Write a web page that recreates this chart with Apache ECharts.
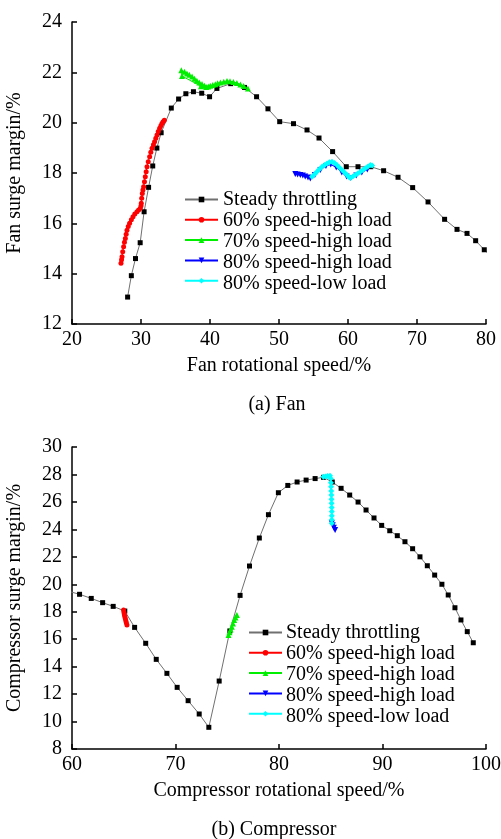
<!DOCTYPE html>
<html>
<head>
<meta charset="utf-8">
<script src="https://cdn.jsdelivr.net/npm/echarts@6/dist/echarts.min.js"></script>
<style>
html,body{margin:0;padding:0;background:#fff;}
#c{width:501px;height:839px;}
</style>
</head>
<body>
<div id="c"></div>
<script>
// ---------- data ----------
var seriesNames = ['Steady throttling', '60% speed-high load', '70% speed-high load', '80% speed-high load', '80% speed-low load'];

var fanSteady = [[28.06,13.07],[28.6,13.92],[29.2,14.6],[29.88,15.23],[30.45,16.46],[31.1,17.43],[31.7,18.28],[32.3,18.99],[32.92,19.6],[34.39,20.58],[35.45,20.94],[36.5,21.15],[37.6,21.23],[38.8,21.17],[39.94,21.03],[41.0,21.36],[43.0,21.55],[45.0,21.4],[46.75,21.03],[48.4,20.55],[50.1,20.04],[52.1,19.96],[54.06,19.71],[55.8,19.39],[57.77,18.85],[59.75,18.25],[61.45,18.25],[63.3,18.25],[65.16,18.09],[67.25,17.83],[69.37,17.42],[71.6,16.85],[74.0,16.16],[75.8,15.76],[77.25,15.6],[78.5,15.31],[79.75,14.95],[80.3,14.8]];
var fan60 = [[27.1,14.41],[27.18,14.55],[27.25,14.67],[27.35,14.87],[27.48,15.07],[27.6,15.25],[27.73,15.4],[27.85,15.57],[27.97,15.73],[28.15,15.87],[28.35,16.0],[28.6,16.14],[28.84,16.26],[29.1,16.37],[29.42,16.46],[29.65,16.53],[29.9,16.6],[30.0,16.7],[30.04,16.8],[30.1,17.0],[30.19,17.19],[30.28,17.32],[30.38,17.45],[30.5,17.65],[30.62,17.85],[30.75,18.05],[30.87,18.25],[31.05,18.45],[31.25,18.65],[31.42,18.82],[31.6,18.98],[31.8,19.12],[31.97,19.24],[32.15,19.38],[32.32,19.51],[32.5,19.65],[32.7,19.78],[32.88,19.88],[33.04,19.97],[33.2,20.04],[33.38,20.1]];
var fan70 = [[38.7,21.45],[35.94,21.85],[35.84,22.08],[36.3,22.02],[36.66,21.95],[37.0,21.9],[37.4,21.83],[37.75,21.75],[38.1,21.67],[38.45,21.6],[38.84,21.54],[39.2,21.47],[39.46,21.42],[39.75,21.44],[40.04,21.47],[40.4,21.5],[40.77,21.53],[41.1,21.57],[41.5,21.6],[42.0,21.63],[42.46,21.66],[42.9,21.65],[43.4,21.62],[43.9,21.58],[44.4,21.52],[44.87,21.46],[45.5,21.36]];
var fan80High = [[52.36,17.96],[52.7,17.94],[53.09,17.92],[53.45,17.9],[53.8,17.86],[54.2,17.82],[54.54,17.78],[55.2,17.92],[56.0,18.12],[56.8,18.28],[57.5,18.34],[58.3,18.22],[59.1,18.02],[59.8,17.86],[60.4,17.8],[61.2,17.9],[62.0,18.02],[62.8,18.14]];
var fan80Low = [[54.78,17.85],[55.15,17.95],[55.5,18.05],[55.85,18.15],[56.23,18.25],[56.6,18.32],[56.96,18.38],[57.3,18.43],[57.68,18.45],[58.05,18.4],[58.4,18.32],[58.75,18.22],[59.13,18.12],[59.5,18.02],[59.86,17.92],[60.1,17.85],[60.33,17.8],[60.7,17.86],[61.06,17.92],[61.4,17.98],[61.78,18.05],[62.15,18.12],[62.5,18.19],[62.85,18.25],[63.23,18.32],[63.5,18.3]];

var compSteady = [[59.6,19.5],[60.73,19.27],[61.86,18.97],[62.96,18.66],[63.98,18.39],[65.1,18.05],[66.05,16.86],[67.12,15.7],[68.14,14.53],[69.17,13.51],[70.16,12.49],[71.22,11.52],[72.29,10.55],[73.22,9.58],[74.22,12.95],[75.25,16.6],[76.24,19.19],[77.15,21.33],[78.1,23.37],[78.98,25.07],[79.94,26.67],[80.85,27.2],[81.75,27.45],[82.62,27.59],[83.49,27.7],[84.3,27.79],[85.15,27.45],[86.0,26.99],[86.83,26.5],[87.64,25.99],[88.41,25.41],[89.18,24.83],[89.92,24.29],[90.7,23.9],[91.43,23.54],[92.17,23.1],[92.91,22.59],[93.62,22.0],[94.33,21.35],[95.04,20.67],[95.74,20.0],[96.35,19.22],[97.0,18.29],[97.58,17.4],[98.19,16.55],[98.77,15.74]];
var comp60 = [[64.98,18.12],[65.02,17.95],[65.06,17.8],[65.1,17.65],[65.15,17.5],[65.2,17.35],[65.25,17.2],[65.31,17.03]];
var comp70 = [[75.12,16.3],[75.22,16.5],[75.32,16.7],[75.44,16.9],[75.55,17.15],[75.67,17.4],[75.8,17.58],[75.93,17.76]];
var comp80High = [[85.1,24.44],[85.2,24.3],[85.3,24.12],[85.42,23.95]];
var comp80Low = [[84.29,27.83],[84.5,27.86],[84.7,27.88],[84.93,27.9],[85.0,27.7],[85.02,27.4],[85.03,27.1],[85.05,26.8],[85.06,26.5],[85.07,26.2],[85.08,25.9],[85.09,25.6],[85.1,25.3],[85.1,25.0],[85.1,24.7],[85.1,24.44]];

var fanXTicks = [20, 80, 10];
var fanYTicks = [12, 24, 2];
var compXTicks = [60, 100, 10];
var compYTicks = [8, 30, 2];

var captions = ['(a) Fan', '(b) Compressor'];
var axisNames = ['Fan rotational speed/%', 'Fan surge margin/%', 'Compressor rotational speed/%', 'Compressor surge margin/%'];

// ---------- styling ----------
var FONT = 'Liberation Serif';
var FONT_CSS = '20px "Liberation Serif", "DejaVu Serif", serif';
var styles = [
  {color: '#000000', line: '#707070', symbol: 'rect', size: 5, rotate: 0},
  {color: '#ff0000', line: '#ff0000', symbol: 'circle', size: 5, rotate: 0},
  {color: '#00ee00', line: '#00ee00', symbol: 'triangle', size: 6, rotate: 0},
  {color: '#0000ff', line: '#0000ff', symbol: 'triangle', size: 6, rotate: 180},
  {color: '#00ffff', line: '#00ffff', symbol: 'diamond', size: 6, rotate: 0}
];

function mkSeries(data, i, gridIdx, z) {
  var s = styles[i];
  return {
    name: seriesNames[i], type: 'line', data: data,
    xAxisIndex: gridIdx, yAxisIndex: gridIdx,
    symbol: s.symbol, symbolSize: s.size, symbolRotate: s.rotate,
    showAllSymbol: true, clip: true,
    itemStyle: {color: s.color},
    lineStyle: {color: s.line, width: 1},
    z: z, animation: false
  };
}

function xAx(t, gi, name) {
  return {
    type: 'value', gridIndex: gi, min: t[0], max: t[1], interval: t[2],
    name: name, nameLocation: 'middle', nameGap: 32,
    nameTextStyle: {fontFamily: FONT, fontSize: 20, color: '#000'},
    axisLine: {show: true, onZero: false, lineStyle: {color: '#000', width: 1.5}},
    axisTick: {show: true, inside: true, length: 5, lineStyle: {color: '#000', width: 1.5}},
    axisLabel: {fontFamily: FONT, fontSize: 20, color: '#000', margin: 6},
    splitLine: {show: false}
  };
}
function yAx(t, gi, name) {
  return {
    type: 'value', gridIndex: gi, min: t[0], max: t[1], interval: t[2],
    name: name, nameLocation: 'middle', nameGap: 47, nameRotate: 90,
    nameTextStyle: {fontFamily: FONT, fontSize: 20, color: '#000'},
    axisLine: {show: true, onZero: false, lineStyle: {color: '#000', width: 1.5}},
    axisTick: {show: true, inside: true, length: 5, lineStyle: {color: '#000', width: 1.5}},
    axisLabel: {fontFamily: FONT, fontSize: 20, color: '#000', margin: 10},
    splitLine: {show: false}
  };
}

// legend: library draws the icons (rows 21px apart); labels drawn as serif text beside them
function mkLegend(left, firstCenter) {
  return {
    orient: 'vertical', left: left, top: firstCenter - 3.5, padding: 0,
    itemWidth: 33, itemHeight: 7, itemGap: 14,
    formatter: function () { return ''; },
    data: seriesNames.slice(),
    selectedMode: false
  };
}
function legendLabels(x, firstCenter) {
  return seriesNames.map(function (n, i) {
    return {type: 'text', x: x, y: firstCenter + i * 21, z: 100,
      style: {text: n, font: FONT_CSS, fill: '#000', align: 'left', verticalAlign: 'middle'}};
  });
}

var option = {
  backgroundColor: '#fff',
  animation: false,
  textStyle: {fontFamily: FONT},
  grid: [
    {left: 72, width: 414, top: 22, height: 302, outerBoundsMode: 'none'},
    {left: 72, width: 414, top: 447, height: 302, outerBoundsMode: 'none'}
  ],
  xAxis: [xAx(fanXTicks, 0, axisNames[0]), xAx(compXTicks, 1, axisNames[2])],
  yAxis: [yAx(fanYTicks, 0, axisNames[1]), yAx(compYTicks, 1, axisNames[3])],
  legend: [mkLegend(184, 199.5), mkLegend(248, 632.5)],
  graphic: [
    {type: 'text', x: 277, y: 405, style: {text: captions[0], font: FONT_CSS, fill: '#000', align: 'center', verticalAlign: 'middle'}},
    {type: 'text', x: 274, y: 830, style: {text: captions[1], font: FONT_CSS, fill: '#000', align: 'center', verticalAlign: 'middle'}}
  ].concat(legendLabels(223, 199.5), legendLabels(286, 632.5)),
  series: [
    mkSeries(fanSteady, 0, 0, 2),
    mkSeries(fan60, 1, 0, 3),
    mkSeries(fan70, 2, 0, 3),
    mkSeries(fan80High, 3, 0, 3),
    mkSeries(fan80Low, 4, 0, 4),
    mkSeries(compSteady, 0, 1, 2),
    mkSeries(comp60, 1, 1, 3),
    mkSeries(comp70, 2, 1, 3),
    mkSeries(comp80High, 3, 1, 3),
    mkSeries(comp80Low, 4, 1, 4)
  ]
};

var chart = echarts.init(document.getElementById('c'), null, {renderer: 'canvas'});
chart.setOption(option);
</script>
</body>
</html>
